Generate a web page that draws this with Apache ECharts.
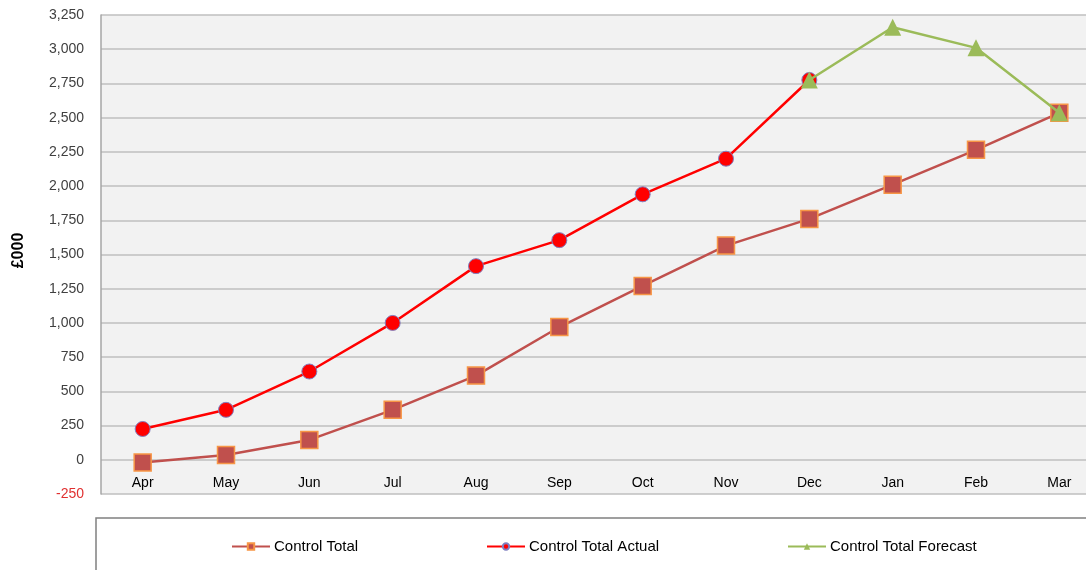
<!DOCTYPE html>
<html><head><meta charset="utf-8">
<script src="https://cdn.jsdelivr.net/npm/echarts@6/dist/echarts.min.js"></script>
<style>html,body{margin:0;padding:0;background:#fff;overflow:hidden;width:1086px;height:570px}#c{width:1101px;height:570px}</style>
</head><body><div id="c"></div>
<script>
const months = ['Apr','May','Jun','Jul','Aug','Sep','Oct','Nov','Dec','Jan','Feb','Mar'];
const controlTotal = [-20, 35, 145, 365, 615, 970, 1270, 1565, 1760, 2010, 2265, 2535];
const controlActual = [225, 365, 645, 1000, 1415, 1605, 1940, 2200, 2775, null, null, null];
const controlForecast = [null, null, null, null, null, null, null, null, 2775, 3160, 3010, 2535];
const yMin = -250, yMax = 3250, yStep = 250;

const gridTop = 15, gridBottom = 76, chartH = 570;
const gridH = chartH - gridTop - gridBottom;
const zeroOffset = -gridH * (0 - yMin) / (yMax - yMin);

const chart = echarts.init(document.getElementById('c'));
const font = '"Liberation Sans", Arial, sans-serif';
chart.setOption({
  animation: false,
  textStyle: {fontFamily: font},
  grid: {left: 101, right: 0, top: gridTop, bottom: gridBottom, outerBoundsMode: 'none', containLabel: false,
         show: true, backgroundColor: '#f2f2f2', borderWidth: 0},
  graphic: [{type: 'rect', shape: {x: 96, y: 518, width: 1020, height: 70}, style: {fill: 'none', stroke: '#808080', lineWidth: 1.5}, z: 0}],
  legend: [
    {data: ['Control Total'], left: 226, top: 534},
    {data: ['Control Total Actual'], left: 481, top: 534},
    {data: ['Control Total Forecast'], left: 782, top: 534}
  ].map(l => Object.assign(l, {itemWidth: 38, itemHeight: 8, itemGap: 4, textStyle: {fontFamily: font, fontSize: 15, color: '#000', padding: [0, 0, 0, -1]}})),
  xAxis: {
    type: 'category', data: months, boundaryGap: true, offset: zeroOffset,
    axisLine: {show: false, onZero: false}, axisTick: {show: false},
    axisLabel: {fontSize: 14, color: '#000', margin: 16}
  },
  yAxis: {
    type: 'value', min: yMin, max: yMax, interval: yStep,
    name: '£000', nameLocation: 'middle', nameGap: 74, nameRotate: 90,
    nameTextStyle: {fontWeight: 'bold', fontSize: 16, color: '#000', padding: [0, 0, 0, 8]},
    axisLine: {show: true, lineStyle: {color: '#a6a6a6', width: 1.5}},
    axisTick: {show: false},
    splitLine: {lineStyle: {color: '#bfbfbf', width: 1.5}},
    axisLabel: {
      margin: 17, fontSize: 14, color: '#404040',
      formatter: v => v < 0 ? '{neg|' + v.toLocaleString('en-US') + '}' : v.toLocaleString('en-US'),
      rich: {neg: {color: '#e03030', fontSize: 14}}
    }
  },
  series: [
    {name: 'Control Total', type: 'line', data: controlTotal, symbol: 'rect', symbolSize: 17,
     lineStyle: {color: '#c0504d', width: 2.5}, itemStyle: {color: '#c0504d', borderColor: '#f79646', borderWidth: 1.5}, z: 2},
    {name: 'Control Total Actual', type: 'line', data: controlActual, symbol: 'circle', symbolSize: 15,
     lineStyle: {color: '#ff0000', width: 2.5}, itemStyle: {color: '#ff0000', borderColor: '#8080c0', borderWidth: 1}, z: 3},
    {name: 'Control Total Forecast', type: 'line', data: controlForecast, symbol: 'triangle', symbolSize: 17,
     lineStyle: {color: '#9bbb59', width: 2.5}, itemStyle: {color: '#9bbb59', borderColor: '#9bbb59', borderWidth: 0}, z: 4}
  ]
});
</script></body></html>
